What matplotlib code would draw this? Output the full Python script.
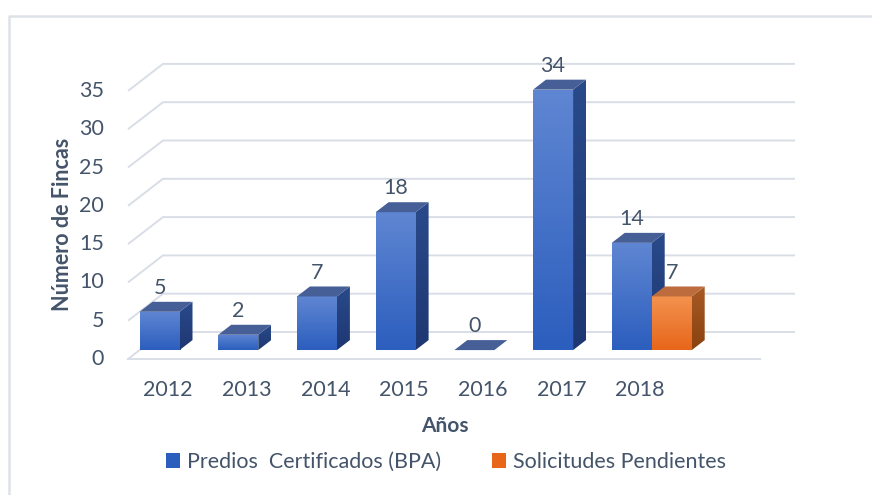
#!/usr/bin/env python3
"""Predios certificados (BPA) vs solicitudes pendientes, 3D-style bars."""
import numpy as np
import matplotlib.pyplot as plt
from matplotlib.patches import Polygon, Rectangle, Patch
from matplotlib.colors import LinearSegmentedColormap

plt.rcParams["font.family"] = ["Lato", "DejaVu Sans"]

years = ["2012", "2013", "2014", "2015", "2016", "2017", "2018"]
certificados = [5, 2, 7, 18, 0, 34, 14]
pendientes = [np.nan, np.nan, np.nan, np.nan, np.nan, np.nan, 7]
y_ticks = [0, 5, 10, 15, 20, 25, 30, 35]

TEXT = "#44546A"
GRID = "#D9DEE6"
# front(top, bottom), side(top, bottom), top face
BLUE = ("#5F86D2", "#2C5EBE", "#2A4A8A", "#1E3772", "#475F97")
ORANGE = ("#F2924F", "#E8661A", "#A85A25", "#8A420F", "#BD6C3E")

W, H = 872, 495
# pixel mapping of the front plane: x_pix = X0 + SX*x, y_pix = Y0 - SY*v
X0, SX = 168, 78.7
Y0, SY = 359, 7.66
DX, DY = 35 / SX, 27 / SY          # full floor depth in data units
Z0, Z1 = 0.33, 0.70                # bar depth span (fraction of floor)
BW = 40 / SX                       # bar width
FLOOR_L, FLOOR_R = (128 - X0) / SX, (760 - X0) / SX

fig = plt.figure(figsize=(W / 100, H / 100), dpi=100)
ax = fig.add_axes([0, 0, 1, 1])
ax.axis("off")

# grid: back wall lines + left slants
for v in y_ticks:
    ax.plot([FLOOR_L, FLOOR_L + DX, FLOOR_R + DX], [v, v + DY, v + DY],
            color=GRID, lw=1.4, solid_capstyle="butt", zorder=1)
ax.plot([FLOOR_L, FLOOR_R], [0, 0], color=GRID, lw=1.4, zorder=1)


def bar3d(x0, val, colors):
    x0 = x0 + Z0 * DX
    y0 = Z0 * DY
    x1, y1 = x0 + BW, y0 + val
    dx, dy = (Z1 - Z0) * DX, (Z1 - Z0) * DY
    ftop, fbot, stop, sbot, tcol = colors
    if val > 0:
        face = Rectangle((x0, y0), BW, val, facecolor="none", edgecolor="none")
        ax.add_patch(face)
        grad = np.linspace(0, 1, 128).reshape(-1, 1)
        cm = LinearSegmentedColormap.from_list("f", [fbot, ftop])
        im = ax.imshow(grad, cmap=cm, origin="lower", aspect="auto",
                       extent=[x0, x1, y0, y1], zorder=3)
        im.set_clip_path(face)
        side = Polygon([(x1, y0), (x1 + dx, y0 + dy), (x1 + dx, y1 + dy), (x1, y1)],
                       closed=True, facecolor="none", edgecolor="none")
        ax.add_patch(side)
        cs = LinearSegmentedColormap.from_list("s", [sbot, stop])
        im2 = ax.imshow(grad, cmap=cs, origin="lower", aspect="auto",
                        extent=[x1, x1 + dx, y0, y1 + dy], zorder=3)
        im2.set_clip_path(side)
    top = Polygon([(x0, y1), (x1, y1), (x1 + dx, y1 + dy), (x0 + dx, y1 + dy)],
                  closed=True, facecolor=tcol, edgecolor="none", zorder=3)
    ax.add_patch(top)
    ax.text(x0 + BW / 2, y1 + dy + 0.5, f"{val:g}", ha="center", va="bottom",
            fontsize=15.5, color=TEXT, zorder=4)


for i, (c, p) in enumerate(zip(certificados, pendientes)):
    if not np.isnan(c):
        bar3d(i - BW, c, BLUE)
    if not np.isnan(p):
        bar3d(i, p, ORANGE)

# tick labels
for v in y_ticks:
    ax.text((104 - X0) / SX, v, str(v), ha="right", va="center",
            fontsize=15.5, color=TEXT)
for i, yr in enumerate(years):
    ax.text(i, (Y0 - 390) / SY, yr, ha="center", va="center",
            fontsize=15.5, color=TEXT)

ax.text((62 - X0) / SX, (Y0 - 224) / SY, "Número de Fincas", rotation=90,
        ha="center", va="center", fontsize=15.5, fontweight="bold", color=TEXT)
ax.text((445 - X0) / SX, (Y0 - 426) / SY, "Años", ha="center", va="center",
        fontsize=15, fontweight="bold", color=TEXT)

ax.set_xlim(-X0 / SX, (W - X0) / SX)
ax.set_ylim((Y0 - H) / SY, Y0 / SY)

# legend
handles = [Patch(facecolor=BLUE[1], label="Predios  Certificados (BPA)"),
           Patch(facecolor=ORANGE[1], label="Solicitudes Pendientes")]
fig.legend(handles=handles, loc="center", bbox_to_anchor=(446 / W, 1 - 462 / H),
           ncol=2, frameon=False, fontsize=15.5, labelcolor=TEXT,
           handlelength=0.65, handleheight=0.65, handletextpad=0.3,
           columnspacing=2.4, borderpad=0, borderaxespad=0)

# chart border (left and top edges visible)
fig.add_artist(plt.Line2D([8.5 / W, 8.5 / W, 1], [0, 1 - 15.5 / H, 1 - 15.5 / H],
                          color="#DDE2E8", lw=1.8, transform=fig.transFigure))

plt.savefig("out.png", dpi=100)
print("saved out.png")
